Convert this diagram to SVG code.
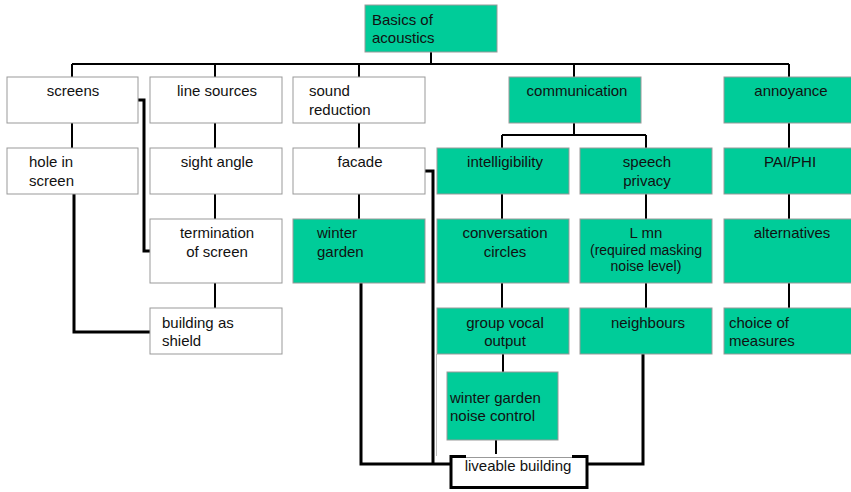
<svg xmlns="http://www.w3.org/2000/svg" width="851" height="492" viewBox="0 0 851 492">
<style>
.b{fill:#fff;stroke:#999;stroke-width:1}
.g{fill:#00CC99;stroke:#999;stroke-width:1}
text{font-family:"Liberation Sans",Arial,sans-serif;font-size:15px;fill:#111}
.c{text-anchor:middle}
.s{font-size:14px}
.ln{fill:none;stroke:#000;stroke-width:2}
.tk{fill:none;stroke:#000;stroke-width:3}
</style>
<rect width="851" height="492" fill="#fff"/>
<g id="connectors">
<path class="ln" d="M431 52V64M72 64H789M72 64V77M215 64V77M359 64V77M574 64V77M789 64V77"/>
<path class="ln" d="M72 123V148M215 123V148M215 194V219M215 283V308M359 123V148M359 194V219"/>
<path class="ln" d="M574 123V135M502 135H646M502 135V148M646 135V148M502 194V219M502 283V308M503 354V372M496 440V456M646 194V219M646 283V308M789 123V148M789 194V219M789 283V308"/>
<path class="tk" d="M74 194V332H150M138 100H144V251H150M425 171H433V464M361 283V464H450M643 354V464H588"/>
<path d="M436.5 354V456" stroke="#bbb" stroke-width="1" fill="none"/>
</g>
<g id="basics"><rect class="g" x="365" y="5" width="132" height="47"/><text x="372" y="25">Basics of</text><text x="372" y="43">acoustics</text></g>
<g id="screens"><rect class="b" x="7" y="77" width="131" height="46"/><text class="c" x="73" y="96">screens</text></g>
<g id="line-sources"><rect class="b" x="150" y="77" width="132" height="46"/><text class="c" x="217" y="96">line sources</text></g>
<g id="sound-reduction"><rect class="b" x="293" y="77" width="132" height="46"/><text x="309" y="96">sound</text><text x="309" y="115">reduction</text></g>
<g id="communication"><rect class="g" x="509" y="77" width="132" height="46"/><text class="c" x="577" y="96">communication</text></g>
<g id="annoyance"><rect class="g" x="724" y="77" width="132" height="46"/><text class="c" x="791" y="96">annoyance</text></g>
<g id="hole-in-screen"><rect class="b" x="7" y="148" width="131" height="46"/><text x="29" y="167">hole in</text><text x="29" y="186">screen</text></g>
<g id="sight-angle"><rect class="b" x="150" y="148" width="132" height="46"/><text class="c" x="217" y="167">sight angle</text></g>
<g id="facade"><rect class="b" x="293" y="148" width="132" height="46"/><text class="c" x="360" y="167">facade</text></g>
<g id="intelligibility"><rect class="g" x="437" y="148" width="132" height="46"/><text class="c" x="505" y="167">intelligibility</text></g>
<g id="speech-privacy"><rect class="g" x="580" y="148" width="132" height="46"/><text class="c" x="647" y="167">speech</text><text class="c" x="647" y="186">privacy</text></g>
<g id="pai-phi"><rect class="g" x="724" y="148" width="132" height="46"/><text class="c" x="790" y="167">PAI/PHI</text></g>
<g id="termination"><rect class="b" x="150" y="219" width="132" height="64"/><text class="c" x="217" y="238">termination</text><text class="c" x="217" y="257">of screen</text></g>
<g id="winter-garden"><rect class="g" x="293" y="219" width="132" height="64"/><text x="317" y="238">winter</text><text x="317" y="257">garden</text></g>
<g id="conversation-circles"><rect class="g" x="437" y="219" width="132" height="64"/><text class="c" x="505" y="238">conversation</text><text class="c" x="505" y="257">circles</text></g>
<g id="l-mn"><rect class="g" x="580" y="219" width="132" height="64"/><text class="c" x="646" y="238">L mn</text><text class="c s" x="646" y="255">(required masking</text><text class="c s" x="646" y="271">noise level)</text></g>
<g id="alternatives"><rect class="g" x="724" y="219" width="132" height="64"/><text class="c" x="792" y="238">alternatives</text></g>
<g id="building-as-shield"><rect class="b" x="150" y="308" width="132" height="46"/><text x="162" y="328">building as</text><text x="162" y="346">shield</text></g>
<g id="group-vocal-output"><rect class="g" x="437" y="308" width="132" height="46"/><text class="c" x="505" y="328">group vocal</text><text class="c" x="505" y="346">output</text></g>
<g id="neighbours"><rect class="g" x="580" y="308" width="132" height="46"/><text class="c" x="648" y="328">neighbours</text></g>
<g id="choice-of-measures"><rect class="g" x="724" y="308" width="132" height="46"/><text x="729" y="328">choice of</text><text x="729" y="346">measures</text></g>
<g id="winter-garden-noise-control"><rect class="g" x="447" y="372" width="111" height="68"/><text x="450" y="403">winter garden</text><text x="450" y="421">noise control</text></g>
<g id="liveable-building"><rect x="451" y="456.5" width="136" height="31" fill="#fff" stroke="#000" stroke-width="3"/><rect x="466" y="454" width="106" height="5" fill="#fff"/><path d="M466 457.5H572" stroke="#999" stroke-width="1"/><text class="c" x="518" y="471">liveable building</text></g>
</svg>
